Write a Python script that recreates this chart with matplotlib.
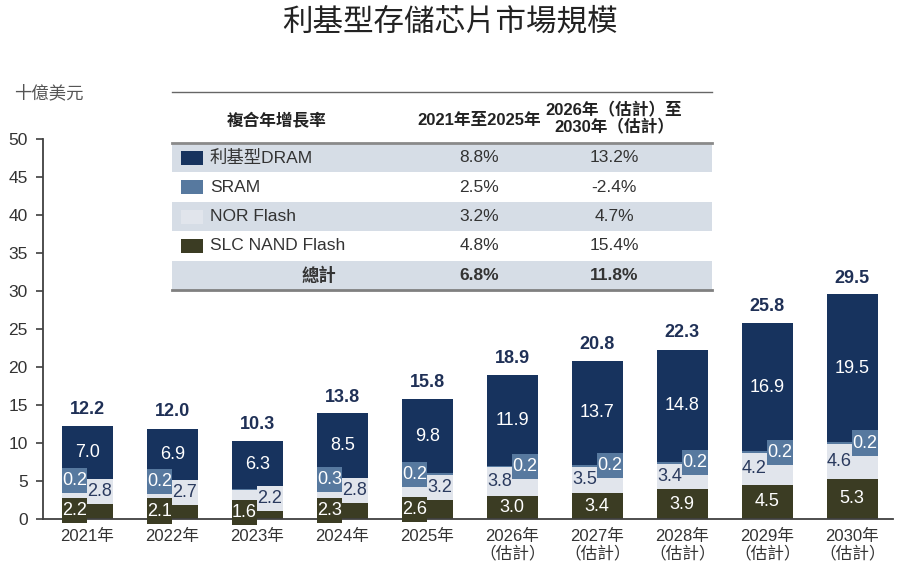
import matplotlib.pyplot as plt
import numpy as np

plt.rcParams['font.family'] = ['Liberation Sans', 'Noto Sans CJK TC']

# ---- data (十億美元) ----
years = ['2021年', '2022年', '2023年', '2024年', '2025年',
         '2026年\n（估計）', '2027年\n（估計）', '2028年\n（估計）',
         '2029年\n（估計）', '2030年\n（估計）']
slc = [2.2, 2.1, 1.6, 2.3, 2.6, 3.0, 3.4, 3.9, 4.5, 5.3]
nor = [2.8, 2.7, 2.2, 2.8, 3.2, 3.8, 3.5, 3.4, 4.2, 4.6]
sram = [0.2, 0.2, 0.2, 0.3, 0.2, 0.2, 0.2, 0.2, 0.2, 0.2]
dram = [7.0, 6.9, 6.3, 8.5, 9.8, 11.9, 13.7, 14.8, 16.9, 19.5]
totals = [12.2, 12.0, 10.3, 13.8, 15.8, 18.9, 20.8, 22.3, 25.8, 29.5]
sram_labelled = [True, True, False, True, True, True, True, True, True, True]
estimated = [False] * 5 + [True] * 5

# CAGR table
series_names = ['利基型DRAM', 'SRAM', 'NOR Flash', 'SLC NAND Flash']
cagr_2021_2025 = ['8.8%', '2.5%', '3.2%', '4.8%']
cagr_2026_2030 = ['13.2%', '-2.4%', '4.7%', '15.4%']
total_cagr = ['6.8%', '11.8%']

# colours
C_DRAM = '#17335e'
C_SRAM = '#57799f'
C_NOR = '#e1e5ec'
C_SLC = '#3b3c23'
C_NAVY_TXT = '#2a3a5e'
C_ROW = '#d6dde6'
colors = [C_DRAM, C_SRAM, C_NOR, C_SLC]

W = 0.6        # bar width
BOX_H = 3.3    # height of the little label boxes (data units)
FS = 13        # labels on the bars
FS_T = 12.5    # table / ticks

fig = plt.figure(figsize=(9, 5.73), dpi=100)
ax = fig.add_axes([43 / 900, 54 / 573, 850 / 900, 380 / 573])

x = np.arange(len(years))
slc_a, nor_a, sram_a, dram_a = map(np.array, (slc, nor, sram, dram))
b_nor = slc_a
b_sram = slc_a + nor_a
b_dram = b_sram + sram_a

ax.bar(x, slc_a, W, color=C_SLC, zorder=2)
ax.bar(x, nor_a, W, bottom=b_nor, color=C_NOR, zorder=2)
ax.bar(x, sram_a, W, bottom=b_sram, color=C_SRAM, zorder=2)
ax.bar(x, dram_a, W, bottom=b_dram, color=C_DRAM, zorder=2)


def boxed_label(xc, yc, val, color, txtcolor):
    ax.bar(xc, BOX_H, W / 2, bottom=yc - BOX_H / 2, color=color,
           zorder=3, clip_on=False)
    ax.text(xc, yc, f'{val:.1f}', ha='center', va='center', fontsize=FS,
            color=txtcolor, zorder=4, clip_on=False)


for i in range(len(x)):
    c_slc = slc_a[i] / 2
    c_nor = b_nor[i] + nor_a[i] / 2
    c_sram = b_sram[i] + sram_a[i] / 2
    c_dram = b_dram[i] + dram_a[i] / 2
    if not estimated[i]:
        boxed_label(x[i] - W / 4, c_slc, slc[i], C_SLC, 'white')
        boxed_label(x[i] + W / 4, c_nor, nor[i], C_NOR, C_NAVY_TXT)
        if sram_labelled[i]:
            boxed_label(x[i] - W / 4, c_sram, sram[i], C_SRAM, 'white')
    else:
        ax.text(x[i], c_slc, f'{slc[i]:.1f}', ha='center', va='center',
                fontsize=FS, color='white', zorder=4)
        boxed_label(x[i] - W / 4, c_nor, nor[i], C_NOR, C_NAVY_TXT)
        if sram_labelled[i]:
            boxed_label(x[i] + W / 4, c_sram, sram[i], C_SRAM, 'white')
    ax.text(x[i], c_dram, f'{dram[i]:.1f}', ha='center', va='center',
            fontsize=FS, color='white', zorder=4)
    ax.annotate(f'{totals[i]:.1f}', (x[i], totals[i]), xytext=(0, 12),
                textcoords='offset points', ha='center', va='center',
                fontsize=FS, fontweight='bold', color='#1f3056')

ax.set_xlim(-0.52, 9.48)
ax.set_ylim(0, 50)
ax.set_yticks(range(0, 51, 5))
ax.set_xticks(x)
ax.set_xticklabels(years, fontsize=12, color='#333333', linespacing=1.15)
ax.tick_params(axis='x', length=0, pad=7)
ax.tick_params(axis='y', length=5, width=1.2, color='#404040',
               labelsize=FS_T, labelcolor='#333333', pad=6)
for s in ('top', 'right'):
    ax.spines[s].set_visible(False)
for s in ('left', 'bottom'):
    ax.spines[s].set_color('#404040')
    ax.spines[s].set_linewidth(1.3)
ax.spines['bottom'].set_zorder(2.5)

# title and unit
fig.text(0.5, 1 - 22 / 573, '利基型存儲芯片市場規模', ha='center', va='center',
         fontsize=22, color='#222222')
fig.text(14 / 900, 1 - 93 / 573, '十億美元', ha='left', va='center',
         fontsize=12.5, color='#555555')

# ---- CAGR table, drawn in pixel coordinates ----
tab = fig.add_axes([0, 0, 1, 1], zorder=5)
tab.set_xlim(0, 900)
tab.set_ylim(573, 0)
tab.axis('off')

T_LEFT, T_RIGHT = 172, 712
T_TOP, HEAD_BOT, ROW_H = 92, 143, 29.4
COL1, COL2 = 479, 614

tab.text(277, 121, '複合年增長率', ha='center', va='center', fontsize=12,
         fontweight='bold', color='#222222')
tab.text(COL1, 121, '2021年至2025年', ha='center', va='center', fontsize=12,
         fontweight='bold', color='#222222')
tab.text(COL2, 119, '2026年（估計）至\n2030年（估計）', ha='center', va='center',
         fontsize=12, fontweight='bold', color='#222222', linespacing=1.1)

for r in range(5):
    top = HEAD_BOT + r * ROW_H
    yc = top + ROW_H / 2
    if r % 2 == 0:
        tab.add_patch(plt.Rectangle((T_LEFT, top), T_RIGHT - T_LEFT, ROW_H,
                                    color=C_ROW, lw=0))
    if r < 4:
        tab.add_patch(plt.Rectangle((181, yc - 7), 22, 14, color=colors[r], lw=0))
        tab.text(210, yc, series_names[r], ha='left', va='center',
                 fontsize=FS_T, color='#333333')
        tab.text(COL1, yc, cagr_2021_2025[r], ha='center', va='center',
                 fontsize=FS_T, color='#333333')
        tab.text(COL2, yc, cagr_2026_2030[r], ha='center', va='center',
                 fontsize=FS_T, color='#333333')
    else:
        tab.text(319, yc, '總計', ha='center', va='center', fontsize=FS_T,
                 fontweight='bold', color='#333333')
        tab.text(COL1, yc, total_cagr[0], ha='center', va='center',
                 fontsize=FS_T, fontweight='bold', color='#333333')
        tab.text(COL2, yc, total_cagr[1], ha='center', va='center',
                 fontsize=FS_T, fontweight='bold', color='#333333')

t_bot = HEAD_BOT + 5 * ROW_H
tab.plot([T_LEFT, T_RIGHT], [T_TOP, T_TOP], color='#666666', lw=1.0)
tab.plot([T_LEFT, T_RIGHT], [HEAD_BOT, HEAD_BOT], color='#8a8a8a', lw=2.0)
tab.plot([T_LEFT, T_RIGHT], [t_bot, t_bot], color='#808080', lw=2.0)

fig.savefig('out.png', dpi=100)
